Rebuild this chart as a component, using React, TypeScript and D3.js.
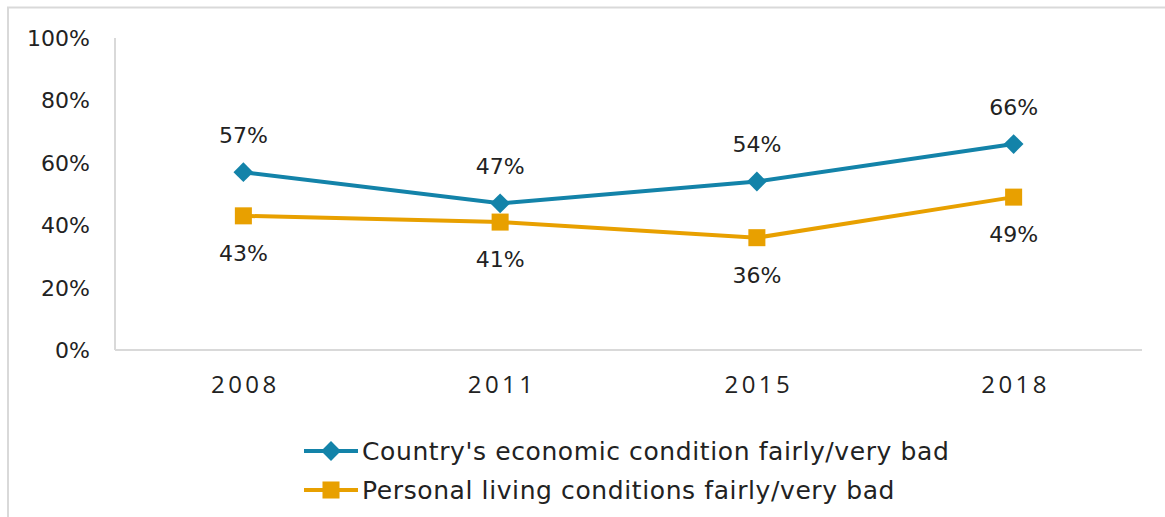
import React from 'react';
import * as d3 from 'd3';

// chart values
const years = ['2008', '2011', '2015', '2018'];
const countryBad = [57, 47, 54, 66];
const personalBad = [43, 41, 36, 49];
const yTicks = [0, 20, 40, 60, 80, 100];
const seriesNames = [
  "Country's economic condition fairly/very bad",
  'Personal living conditions fairly/very bad',
];

const BLUE = '#1383a9';
const ORANGE = '#e8a000';
const AXIS = '#d9d9d9';
const LABEL_FONT = "'DejaVu Sans', sans-serif";

const W = 1165, H = 517;
const plot = { left: 115, right: 1142, top: 38, bottom: 350 };

const App: React.FC = () => {
  const x = d3.scaleBand<string>().domain(years).range([plot.left, plot.right]);
  const y = d3.scaleLinear().domain([0, 100]).range([plot.bottom, plot.top]);
  const cx = (d: string) => (x(d) as number) + x.bandwidth() / 2;

  const line = d3.line<number>()
    .x((_, i) => cx(years[i]))
    .y(d => y(d));

  const diamond = d3.symbol().type(d3.symbolDiamond2).size(250)();
  const square = d3.symbol().type(d3.symbolSquare).size(290)();

  return (
    <svg width={W} height={H} style={{ position: 'absolute', left: 0, top: 0 }}>
      <rect x={0} y={0} width={W} height={H} fill="#fff" />
      {/* outer frame */}
      <rect x={8} y={7.5} width={W + 10} height={H + 10} fill="none" stroke={AXIS} strokeWidth={2} />

      {/* axes */}
      <line x1={plot.left} x2={plot.left} y1={plot.top} y2={plot.bottom} stroke={AXIS} strokeWidth={2} />
      <line x1={plot.left} x2={plot.right} y1={plot.bottom} y2={plot.bottom} stroke={AXIS} strokeWidth={2} />

      {yTicks.map(t => (
        <text key={t} x={90} y={y(t)} dy="0.36em" textAnchor="end"
          fontFamily={LABEL_FONT} fontSize={22} fill="#222">{t}%</text>
      ))}

      {years.map(yr => (
        <text key={yr} x={cx(yr) + 2} y={384} dy="0.36em" textAnchor="middle"
          fontFamily="'Open Sans', sans-serif" fontSize={24} letterSpacing={3.5} fill="#222">{yr}</text>
      ))}

      {/* lines */}
      <path d={line(personalBad) || ''} fill="none" stroke={ORANGE} strokeWidth={4} />
      <path d={line(countryBad) || ''} fill="none" stroke={BLUE} strokeWidth={4} />

      {countryBad.map((v, i) => (
        <g key={'c' + i}>
          <path d={diamond || ''} transform={`translate(${cx(years[i])},${y(v)})`} fill={BLUE} />
          <text x={cx(years[i])} y={y(v) - 37} dy="0.36em" textAnchor="middle"
            fontFamily={LABEL_FONT} fontSize={22} fill="#222">{v}%</text>
        </g>
      ))}
      {personalBad.map((v, i) => (
        <g key={'p' + i}>
          <path d={square || ''} transform={`translate(${cx(years[i])},${y(v)})`} fill={ORANGE} />
          <text x={cx(years[i])} y={y(v) + 37} dy="0.36em" textAnchor="middle"
            fontFamily={LABEL_FONT} fontSize={22} fill="#222">{v}%</text>
        </g>
      ))}

      {/* legend */}
      {seriesNames.map((name, i) => {
        const ly = 451 + i * 39;
        const col = i === 0 ? BLUE : ORANGE;
        return (
          <g key={name}>
            <line x1={304} x2={358} y1={ly} y2={ly} stroke={col} strokeWidth={4} />
            <path d={(i === 0 ? diamond : square) || ''} transform={`translate(331,${ly})`} fill={col} />
            <text x={362} y={ly} dy="0.36em" fontFamily={LABEL_FONT} fontSize={25} letterSpacing={0.6} fill="#222">{name}</text>
          </g>
        );
      })}
    </svg>
  );
};

export default App;
